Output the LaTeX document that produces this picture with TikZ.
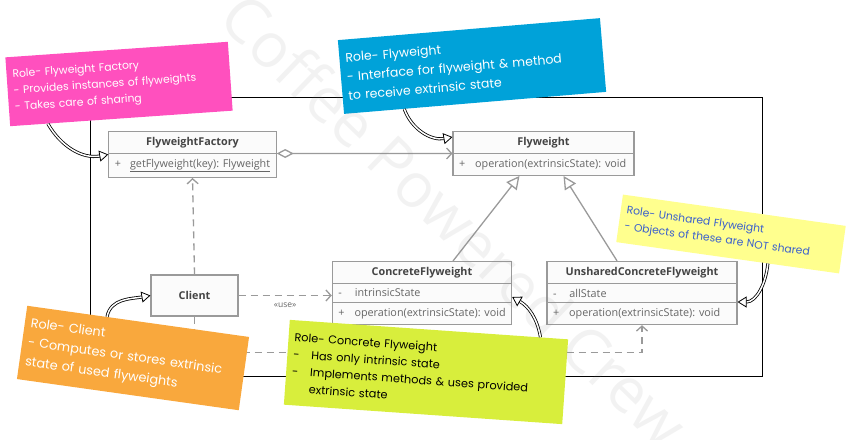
\documentclass[tikz,border=0pt]{standalone}
\usepackage{fontspec}
\setmainfont{Open Sans}
\newfontfamily\notefont{Poppins}
\usetikzlibrary{arrows.meta}
\usetikzlibrary{calc}
\usetikzlibrary{shapes.multipart}
\definecolor{umlgray}{HTML}{9A9A9A}
\definecolor{umltext}{HTML}{666666}
\definecolor{umlhead}{HTML}{444444}
\definecolor{notepink}{HTML}{FF50BE}
\definecolor{noteblue}{HTML}{00A2D9}
\definecolor{noteyellow}{HTML}{FFFF8E}
\definecolor{noteorange}{HTML}{F9A83D}
\definecolor{notegreen}{HTML}{D8EE3C}
\definecolor{noteink}{HTML}{3A5FCD}

\begin{document}
\begin{tikzpicture}[x=1pt,y=-1pt,
    umlclass/.style={rectangle split, rectangle split parts=2, draw=umlgray, line width=1.1pt,
        fill=gray!3, text=umltext, font=\fontsize{10.8}{12}\selectfont, inner xsep=6pt, inner ysep=5pt,
        rectangle split part align={center,left,left}},
    umlline/.style={draw=umlgray, line width=1.3pt},
    uselink/.style={umlline, dash pattern=on 7pt off 5pt, -{Straight Barb[length=5pt,width=11pt]}},
    sticky/.style={text width=#1, align=left, inner sep=6pt, font=\notefont},
    notearrow/.style={line width=0.8pt, double=white, double distance=1.5pt,
        -{Triangle[open,fill=white,length=9pt,width=11pt]}}
    ]
\useasboundingbox (0,0) rectangle (850,439);

\draw[line width=0.9pt] (90,97) rectangle (762,376);

\node[umlclass, minimum width=165pt] (factory) at (192.5,154.5)
    {\textcolor{umlhead}{\textbf{FlyweightFactory}}\nodepart{two}+\hspace{9pt}\underline{getFlyweight(key): Flyweight}};
\node[umlclass, minimum width=181pt] (flyweight) at (543.5,153.5)
    {\textcolor{umlhead}{\textbf{Flyweight}}\nodepart{two}+\hspace{10pt}operation(extrinsicState): void};
\node[umlclass, rectangle split parts=3, minimum width=178pt] (cf) at (422,293)
    {\textcolor{umlhead}{\textbf{ConcreteFlyweight}}\nodepart{two}-\hspace{13pt}intrinsicState\nodepart{three}+\hspace{10pt}operation(extrinsicState): void};
\node[umlclass, rectangle split parts=3, minimum width=190pt] (unshared) at (642,293)
    {\textcolor{umlhead}{\textbf{UnsharedConcreteFlyweight}}\nodepart{two}-\hspace{13pt}allState\nodepart{three}+\hspace{10pt}operation(extrinsicState): void};
\node[draw=umlgray, line width=1.1pt, fill=gray!3, minimum width=87pt, minimum height=41pt,
    font=\fontsize{10.8}{12}\selectfont, text=umlhead] (client) at (194.5,295.5) {\textbf{Client}};

\draw[umlline, {Diamond[fill=white,length=17pt,width=9pt]}-{Straight Barb[length=5pt,width=11pt]}]
    (factory.text split east) -- (flyweight.text split west);
\draw[umlline, -{Triangle[fill=white,length=13pt,width=13pt]}] ([xshift=31pt]cf.north) -- ([xshift=-24pt]flyweight.south);
\draw[umlline, -{Triangle[fill=white,length=13pt,width=13pt]}] ([xshift=-25pt]unshared.north) -- ([xshift=20pt]flyweight.south);
\draw[uselink] (client.north) -- (factory.south);
\draw[uselink] (client.east) -- (client.east -| cf.west)
    node[midway, below=3pt, font=\fontsize{8.5}{9}\selectfont, text=umltext] {«use»};
\draw[uselink] (client.south) -- ++(0,36) -| (unshared.south);

\node[sticky=211pt, fill=notepink, text=white, rotate=4, minimum width=223pt, minimum height=69pt,
    font=\notefont\fontsize{10.8}{16.5}\selectfont] (factorynote) at (119,84)
    {Role- Flyweight Factory\\- Provides instances of flyweights\\- Takes care of sharing};
\node[sticky=251pt, fill=noteblue, text=white, rotate=4.8, minimum width=263pt, minimum height=74pt,
    font=\notefont\fontsize{12.5}{19}\selectfont] (flyweightnote) at (472,66)
    {Role- Flyweight\\- Interface for flyweight \& method\\to receive extrinsic state};
\node[sticky=213pt, fill=noteyellow, text=noteink, rotate=-8, minimum width=225pt, minimum height=48pt,
    font=\notefont\fontsize{10.8}{16}\selectfont] (unsharednote) at (731,234)
    {Role- Unshared Flyweight\\- Objects of these are NOT shared};
\node[sticky=212pt, fill=noteorange, text=white, rotate=-8, minimum width=224pt, minimum height=74pt,
    font=\notefont\fontsize{12.8}{19.5}\selectfont] (clientnote) at (133,358)
    {Role- Client\\- Computes or stores extrinsic\\state of used flyweights};
\node[sticky=267pt, fill=notegreen, text=black, rotate=-4, minimum width=279pt, minimum height=85pt,
    font=\notefont\fontsize{11.3}{17}\selectfont] (concretenote) at (426,372)
    {Role- Concrete Flyweight\\\makebox[18pt][l]{-}Has only intrinsic state\\\makebox[18pt][l]{-}Implements methods \& uses provided\\\hspace*{18pt}extrinsic state};

\draw[notearrow] ($(factorynote.south west)!0.17!(factorynote.south east)$) to[out=-60,in=190] (factory.west);
\draw[notearrow] ($(flyweightnote.south west)!0.23!(flyweightnote.south east)$) to[out=-70,in=190] ([yshift=-6pt]flyweight.north west);
\draw[notearrow] ($(unsharednote.south west)!0.68!(unsharednote.south east)$) to[out=-95,in=0] ([yshift=-9pt]unshared.east);
\draw[notearrow] ($(clientnote.north west)!0.36!(clientnote.north east)$) to[out=80,in=190] (client.west);
\draw[notearrow] ($(concretenote.north west)!0.9!(concretenote.north east)$) to[out=100,in=-30] ([yshift=-4pt]cf.east);

\node[rotate=-44, text=gray, opacity=0.1, font=\fontsize{62}{62}\selectfont] (watermark) at (455,220) {Coffee Powered Crew};
\end{tikzpicture}
\end{document}
